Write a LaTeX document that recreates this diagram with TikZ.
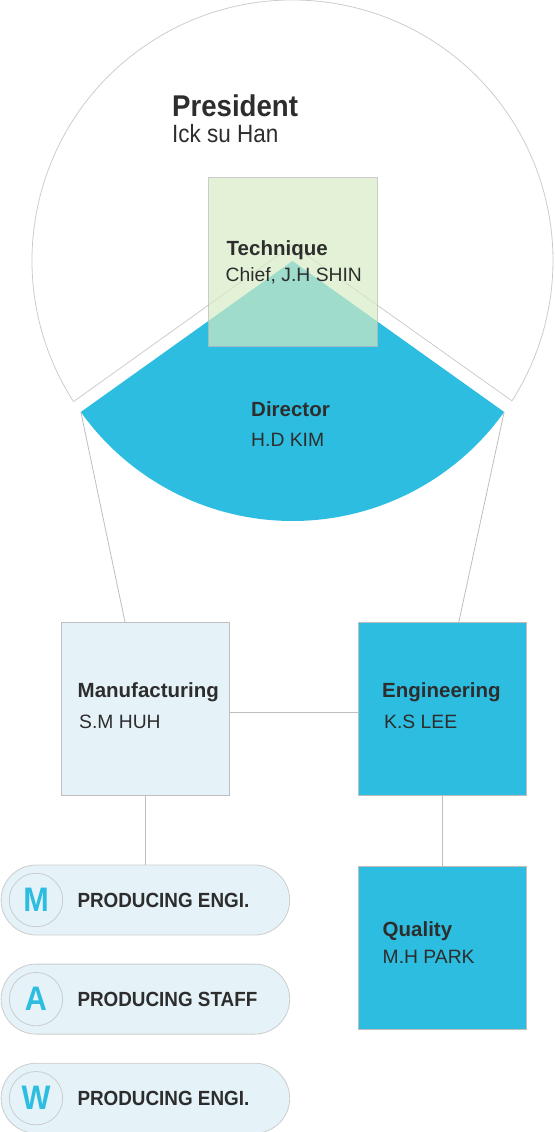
\documentclass[tikz,border=0pt]{standalone}
\usepackage{fontspec}
\setmainfont{Liberation Sans}
\newfontfamily\condfont[FakeStretch=0.92]{Liberation Sans}
\newfontfamily\narrowfont[FakeStretch=0.9]{Liberation Sans}
\usetikzlibrary{positioning}

\definecolor{dirblue}{RGB}{44,189,224}
\definecolor{paleblue}{RGB}{229,243,249}
\definecolor{techgreen}{RGB}{214,236,195}
\definecolor{edgegray}{RGB}{190,190,190}
\definecolor{ringgray}{RGB}{204,204,204}
\definecolor{ink}{RGB}{45,45,45}

\begin{document}
\begin{tikzpicture}[x=1pt, y=-1pt,
    % Square unit boxes
    unit_box/.style={rectangle, draw=edgegray, line width=0.8pt, minimum width=168pt, minimum height=173pt, inner sep=0pt, anchor=north west},
    % Rounded staff pills
    staff_pill/.style={rectangle, rounded corners=35pt, draw=ringgray, line width=0.8pt, fill=paleblue, minimum width=288.6pt, minimum height=70pt, inner sep=0pt},
    badge/.style={circle, draw=ringgray, line width=0.8pt, minimum size=53.4pt, inner sep=0pt, text=dirblue, font=\narrowfont\bfseries\fontsize{34}{38}\selectfont},
    % Texts
    unit_title/.style={anchor=base west, inner sep=0pt, text=ink, font=\bfseries\fontsize{20.5}{24}\selectfont},
    unit_person/.style={anchor=base west, inner sep=0pt, text=ink, font=\fontsize{19.3}{23}\selectfont},
    pill_text/.style={anchor=west, inner sep=0pt, text=ink, font=\condfont\bfseries\fontsize{20.5}{24}\selectfont},
    % Connection style
    connection/.style={line width=0.8pt, color=edgegray}
]
    \useasboundingbox (0,0) rectangle (554,1132);

    % --- PRESIDENT CIRCLE ---
    \coordinate (cen) at (292.5,260.5);
    \coordinate (gapTip) at (292.5,245);
    \path (cen) ++(147.2:260.5) coordinate (gapL);
    \draw[line width=0.8pt, ringgray] (gapTip) -- (gapL)
        arc[start angle=147.2, end angle=392.6, radius=260.5] -- cycle;

    % --- DIRECTOR SECTOR ---
    \coordinate (dirC) at (292.5,261);
    \path (dirC) ++(144.5:260) coordinate (dirL);
    \path (dirC) ++(35.5:260) coordinate (dirR);
    \fill[dirblue] (dirC) -- (dirR) arc[start angle=35.5, end angle=144.5, radius=260] -- cycle;

    % --- UNITS ---
    \node[unit_box, fill=paleblue] (man) at (61,622) {};
    \node[unit_box, fill=dirblue] (eng) at (358,622) {};
    \node[unit_box, fill=dirblue, minimum height=163pt, below=70pt of eng] (qual) {};

    % Connections director -> units
    \draw[connection] (dirL) -- ([xshift=64pt]man.north west);
    \draw[connection] (dirR) -- ([xshift=-68pt]eng.north east);
    \draw[connection] ([yshift=-3.5pt]man.east) -- ([yshift=-3.5pt]eng.west);
    \draw[connection] (eng.south) -- (qual.north);

    % --- STAFF PILLS ---
    \node[staff_pill, anchor=west] (pillM) at (0.7,900) {};
    \node[staff_pill, below=28.3pt of pillM] (pillA) {};
    \node[staff_pill, below=28.3pt of pillA] (pillW) {};
    \draw[connection] (man.south) -- (man.south |- pillM.north);

    \node[badge] (bM) at ([xshift=35.3pt]pillM.west) {M};
    \node[badge] (bA) at ([xshift=35.3pt]pillA.west) {A};
    \node[badge] (bW) at ([xshift=35.3pt]pillW.west) {W};
    \node[pill_text] (tM) at ([xshift=76.6pt]pillM.west) {PRODUCING ENGI.};
    \node[pill_text] (tA) at ([xshift=76.6pt]pillA.west) {PRODUCING STAFF};
    \node[pill_text] (tW) at ([xshift=76.6pt]pillW.west) {PRODUCING ENGI.};

    % --- TECHNIQUE (translucent) ---
    \node[unit_box, minimum width=168.4pt, minimum height=168.7pt, fill=techgreen, fill opacity=0.68, draw opacity=0.8] (tech) at (208.3,177.3) {};

    % --- LABELS ---
    \node[unit_title, font=\condfont\bfseries\fontsize{30}{34}\selectfont] (presT) at (172,116) {President};
    \node[unit_person, font=\narrowfont\fontsize{25}{29}\selectfont] (presN) at (172,142) {Ick su Han};
    \node[unit_title] (techT) at (226.5,255) {Technique};
    \node[unit_person] (techN) at (225.5,281.7) {Chief, J.H SHIN};
    \node[unit_title] (dirT) at (251,416.7) {Director};
    \node[unit_person] (dirN) at (251,446) {H.D KIM};
    \node[unit_title] (manT) at (77.5,697) {Manufacturing};
    \node[unit_person] (manN) at (79,728) {S.M HUH};
    \node[unit_title] (engT) at (382,697) {Engineering};
    \node[unit_person] (engN) at (384,728) {K.S LEE};
    \node[unit_title] (qualT) at (382.5,936.7) {Quality};
    \node[unit_person] (qualN) at (382.5,963.3) {M.H PARK};

\end{tikzpicture}
\end{document}
